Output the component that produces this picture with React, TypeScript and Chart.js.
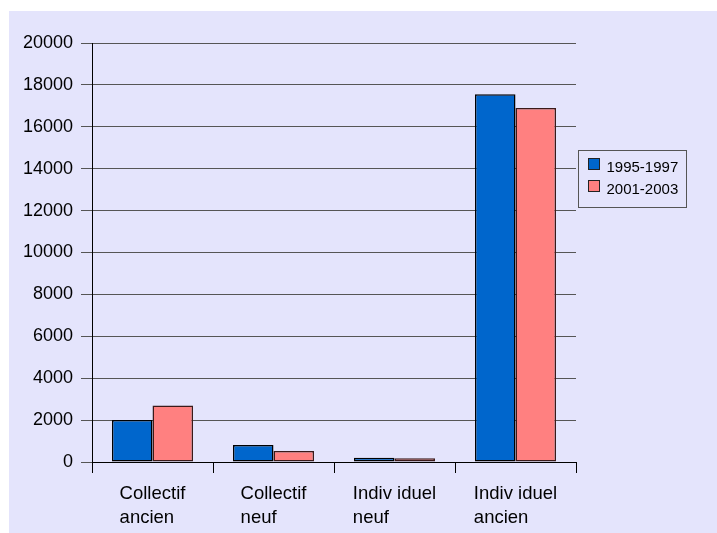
import React, { useEffect, useRef } from "react";
import { Chart, registerables } from "chart.js";

Chart.register(...registerables);

const categories: string[][] = [
  ["Collectif", "ancien"],
  ["Collectif", "neuf"],
  ["Indiv iduel", "neuf"],
  ["Indiv iduel", "ancien"],
];
const seriesNames = ["1995-1997", "2001-2003"];
const values1995 = [2000, 810, 200, 17550];
const values2001 = [2700, 525, 180, 16900];
const yTicks = [0, 2000, 4000, 6000, 8000, 10000, 12000, 14000, 16000, 18000, 20000];

const FONT = '"Liberation Sans", Arial, sans-serif';
const BG = "#E4E4FC";
const BLUE = "#0066CC";
const PINK = "#FF8080";

const W = 717;
const H = 533;

// Lavender panel behind everything
const backgroundPlugin = {
  id: "panelBackground",
  beforeDraw(chart: any) {
    const ctx = chart.ctx;
    ctx.save();
    ctx.fillStyle = BG;
    ctx.fillRect(9, 11, W - 9, H - 11);
    ctx.restore();
  },
};

// Category labels: each block of lines is left-aligned and centred under its bars
const categoryLabelPlugin = {
  id: "categoryLabels",
  afterDraw(chart: any) {
    const ctx = chart.ctx;
    const xScale = chart.scales.x;
    const base = xScale.bottom - xScale.height + 37;
    ctx.save();
    ctx.font = `18.5px ${FONT}`;
    ctx.fillStyle = "#000";
    ctx.textAlign = "left";
    ctx.textBaseline = "alphabetic";
    categories.forEach((lines, i) => {
      const cx = xScale.getPixelForValue(i);
      const w = Math.max(...lines.map((l) => ctx.measureText(l).width));
      const left = cx - w / 2;
      lines.forEach((line, j) => {
        ctx.fillText(line, left, base + j * 24);
      });
    });
    ctx.restore();
  },
};

// Boxed legend to the right of the plot
const legendPlugin = {
  id: "boxLegend",
  afterDraw(chart: any) {
    const ctx = chart.ctx;
    const area = chart.chartArea;
    const bx = area.right + 2.5;
    const by = 150.5;
    const bw = 108;
    const bh = 57;
    ctx.save();
    ctx.fillStyle = BG;
    ctx.fillRect(bx, by, bw, bh);
    ctx.strokeStyle = "#555";
    ctx.lineWidth = 1;
    ctx.strokeRect(bx, by, bw, bh);
    ctx.font = `15px ${FONT}`;
    ctx.textAlign = "left";
    ctx.textBaseline = "alphabetic";
    chart.data.datasets.forEach((ds: any, i: number) => {
      const sy = by + 8 + i * 22;
      ctx.fillStyle = ds.backgroundColor;
      ctx.fillRect(bx + 10, sy, 11, 11);
      ctx.strokeStyle = "#222";
      ctx.strokeRect(bx + 10, sy, 11, 11);
      ctx.fillStyle = "#000";
      ctx.fillText(ds.label, bx + 28, sy + 13);
    });
    ctx.restore();
  },
};

export default function App() {
  const canvasRef = useRef<HTMLCanvasElement | null>(null);

  useEffect(() => {
    const canvas = canvasRef.current;
    if (!canvas) return;
    const chart = new Chart(canvas, {
      type: "bar",
      data: {
        labels: categories.map((c) => c.join(" ")),
        datasets: [
          {
            label: seriesNames[0],
            data: values1995,
            backgroundColor: BLUE,
            borderColor: "#000",
            borderWidth: 1.5,
            borderSkipped: false,
          },
          {
            label: seriesNames[1],
            data: values2001,
            backgroundColor: PINK,
            borderColor: "#3a1a1a",
            borderWidth: 1.5,
            borderSkipped: false,
          },
        ],
      },
      options: {
        responsive: false,
        animation: false,
        devicePixelRatio: 1,
        layout: { padding: { left: 0, top: 43, right: 141, bottom: 0 } },
        plugins: {
          legend: { display: false },
          tooltip: { enabled: false },
        },
        datasets: {
          bar: { categoryPercentage: 0.67, barPercentage: 1 },
        },
        scales: {
          x: {
            offset: true,
            grid: {
              offset: true,
              drawOnChartArea: false,
              tickLength: 11,
              color: "#000",
            },
            border: { color: "#000", width: 1 },
            ticks: { display: false },
            afterFit: (s: any) => {
              s.height = 71;
            },
          },
          y: {
            min: 0,
            max: 20000,
            afterBuildTicks: (s: any) => {
              s.ticks = yTicks.map((v) => ({ value: v }));
            },
            grid: { color: "#555", tickLength: 11, lineWidth: 1 },
            border: { color: "#000", width: 1 },
            ticks: {
              color: "#000",
              padding: 8,
              font: { family: FONT, size: 18 },
              callback: (v: any) => String(v),
            },
            afterFit: (s: any) => {
              s.width = 92;
            },
          },
        },
      },
      plugins: [backgroundPlugin, categoryLabelPlugin, legendPlugin],
    });
    return () => chart.destroy();
  }, []);

  return (
    <div style={{ position: "absolute", left: 0, top: 0, width: W, height: H }}>
      <canvas ref={canvasRef} width={W} height={H} style={{ display: "block", width: W, height: H }} />
    </div>
  );
}
